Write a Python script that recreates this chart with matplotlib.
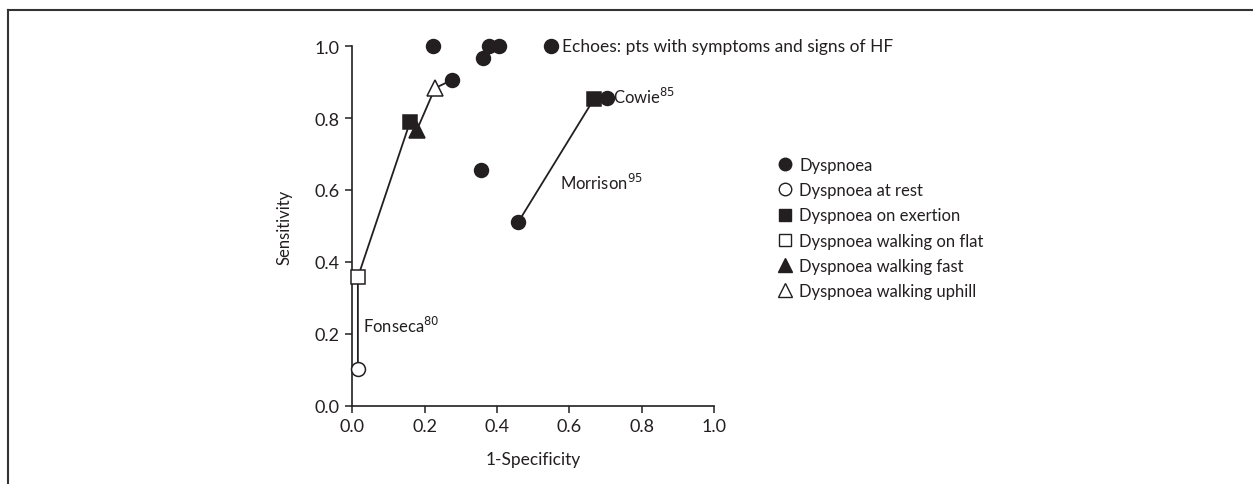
import matplotlib
matplotlib.use("Agg")
import matplotlib.pyplot as plt
from matplotlib.lines import Line2D

plt.rcParams['font.family'] = ['Lato', 'DejaVu Sans']

# Data points (1-specificity, sensitivity)
dysp_x = [0.224, 0.379, 0.406, 0.362, 0.276, 0.356, 0.459, 0.704]
dysp_y = [1.000, 1.000, 1.000, 0.967, 0.906, 0.655, 0.511, 0.856]
rest_x = [0.016]
rest_y = [0.103]
exert_x = [0.160, 0.668]
exert_y = [0.789, 0.853]
flat_x = [0.016]
flat_y = [0.358]
fast_x = [0.179]
fast_y = [0.767]
uphill_x = [0.229]
uphill_y = [0.883]

# study connecting lines
fonseca_x = [0.016, 0.016, 0.160, 0.179, 0.229, 0.276]
fonseca_y = [0.103, 0.358, 0.789, 0.767, 0.883, 0.906]
morrison_x = [0.459, 0.668]
morrison_y = [0.511, 0.853]

# key marker for the echo note
echoes_x = [0.549]
echoes_y = [1.0]

legend_labels = ['Dyspnoea', 'Dyspnoea at rest', 'Dyspnoea on exertion',
                 'Dyspnoea walking on flat', 'Dyspnoea walking fast',
                 'Dyspnoea walking uphill']

ink = '#231f20'

fig = plt.figure(figsize=(12.53, 4.85), dpi=100)
ax = fig.add_axes([0.281, 0.161, 0.289, 0.742])

ax.plot(fonseca_x, fonseca_y, color=ink, lw=1.3, zorder=2)
ax.plot(morrison_x, morrison_y, color=ink, lw=1.3, zorder=2)

kw = dict(ls='none', clip_on=False, zorder=3, markeredgecolor=ink, markeredgewidth=1.1)
ax.plot(dysp_x, dysp_y, marker='o', ms=10, color=ink, **kw)
ax.plot(rest_x, rest_y, marker='o', ms=10, markerfacecolor='white', **kw)
ax.plot(exert_x, exert_y, marker='s', ms=9.5, color=ink, **kw)
ax.plot(flat_x, flat_y, marker='s', ms=9.5, markerfacecolor='white', **kw)
ax.plot(fast_x, fast_y, marker='^', ms=11, color=ink, **kw)
ax.plot(uphill_x, uphill_y, marker='^', ms=11, markerfacecolor='white', **kw)
ax.plot(echoes_x, echoes_y, marker='o', ms=10, color=ink, **kw)

fs = 12
ax.text(0.580, 1.0, 'Echoes: pts with symptoms and signs of HF', fontsize=fs + 0.5,
        va='center', ha='left', color=ink)
ax.text(0.720, 0.862, 'Cowie$^{85}$', fontsize=fs, va='center', ha='left', color=ink)
ax.text(0.575, 0.622, 'Morrison$^{95}$', fontsize=fs, va='center', ha='left', color=ink)
ax.text(0.031, 0.225, 'Fonseca$^{80}$', fontsize=fs, va='center', ha='left', color=ink)

ax.set_xlim(0, 1)
ax.set_ylim(0, 1)
ticks = [0.0, 0.2, 0.4, 0.6, 0.8, 1.0]
ax.set_xticks(ticks)
ax.set_yticks(ticks)
ax.set_xticklabels([f'{t:.1f}' for t in ticks])
ax.set_yticklabels([f'{t:.1f}' for t in ticks])
ax.tick_params(direction='out', length=5, width=1.1, colors=ink, labelsize=13, pad=4)
for s in ['top', 'right']:
    ax.spines[s].set_visible(False)
for s in ['left', 'bottom']:
    ax.spines[s].set_color(ink)
    ax.spines[s].set_linewidth(1.2)
ax.set_xlabel('1-Specificity', fontsize=12.5, color=ink, labelpad=12)
ax.set_ylabel('Sensitivity', fontsize=12, color=ink, labelpad=16)

# legend
lk = dict(ls='none', markeredgecolor=ink, markeredgewidth=1.0)
handles = [
    Line2D([], [], marker='o', ms=9, color=ink, **lk),
    Line2D([], [], marker='o', ms=9, markerfacecolor='white', **lk),
    Line2D([], [], marker='s', ms=9, color=ink, **lk),
    Line2D([], [], marker='s', ms=9, markerfacecolor='white', **lk),
    Line2D([], [], marker='^', ms=10, color=ink, **lk),
    Line2D([], [], marker='^', ms=10, markerfacecolor='white', **lk),
]
leg = fig.legend(handles, legend_labels, loc='upper left', bbox_to_anchor=(0.620, 0.674),
                 frameon=False, fontsize=fs, handlelength=1.0, handletextpad=0.35,
                 labelspacing=0.55, borderpad=0, borderaxespad=0)
for t in leg.get_texts():
    t.set_color(ink)

# partial frame around the figure
fig.add_artist(Line2D([8 / 1253, 1.0], [1 - 11 / 485, 1 - 11 / 485],
                      transform=fig.transFigure, color='#333333', lw=1.5))
fig.add_artist(Line2D([8 / 1253, 8 / 1253], [0.0, 1 - 11 / 485],
                      transform=fig.transFigure, color='#333333', lw=1.5))

fig.savefig('out.png', dpi=100)
